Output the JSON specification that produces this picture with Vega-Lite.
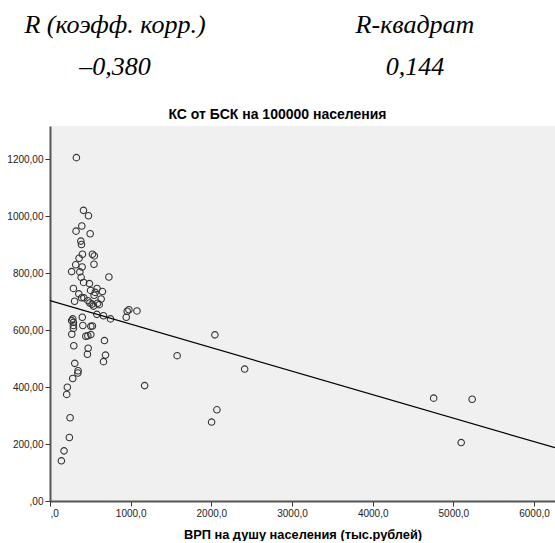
{
  "$schema": "https://vega.github.io/schema/vega-lite/v6.json",
  "padding": 0,
  "background": "white",
  "spacing": 0,
  "config": {"view": {"stroke": null}},
  "datasets": {
    "header": [
      {"col": "a", "line": "h", "text": "R (коэфф. корр.)"},
      {"col": "a", "line": "v", "text": "–0,380"},
      {"col": "b", "line": "h", "text": "R-квадрат"},
      {"col": "b", "line": "v", "text": "0,144"}
    ],
    "points": [
      {"vrp": 327, "ks": 1205}, {"vrp": 415, "ks": 1020}, {"vrp": 477, "ks": 1001}, {"vrp": 394, "ks": 965},
      {"vrp": 323, "ks": 947}, {"vrp": 498, "ks": 938}, {"vrp": 382, "ks": 912}, {"vrp": 390, "ks": 900},
      {"vrp": 402, "ks": 866}, {"vrp": 526, "ks": 866}, {"vrp": 549, "ks": 860}, {"vrp": 361, "ks": 852},
      {"vrp": 545, "ks": 831}, {"vrp": 319, "ks": 829}, {"vrp": 398, "ks": 821}, {"vrp": 268, "ks": 805},
      {"vrp": 370, "ks": 804}, {"vrp": 730, "ks": 786}, {"vrp": 386, "ks": 785}, {"vrp": 417, "ks": 767},
      {"vrp": 489, "ks": 763}, {"vrp": 290, "ks": 746}, {"vrp": 583, "ks": 746}, {"vrp": 503, "ks": 739},
      {"vrp": 650, "ks": 735}, {"vrp": 560, "ks": 732}, {"vrp": 357, "ks": 727}, {"vrp": 547, "ks": 722},
      {"vrp": 392, "ks": 713}, {"vrp": 420, "ks": 713}, {"vrp": 634, "ks": 709}, {"vrp": 305, "ks": 701},
      {"vrp": 470, "ks": 703}, {"vrp": 494, "ks": 695}, {"vrp": 522, "ks": 691}, {"vrp": 590, "ks": 694},
      {"vrp": 610, "ks": 689}, {"vrp": 539, "ks": 684}, {"vrp": 581, "ks": 655}, {"vrp": 663, "ks": 650},
      {"vrp": 750, "ks": 639}, {"vrp": 945, "ks": 645}, {"vrp": 957, "ks": 666}, {"vrp": 978, "ks": 671},
      {"vrp": 1078, "ks": 667}, {"vrp": 400, "ks": 645}, {"vrp": 282, "ks": 639}, {"vrp": 290, "ks": 627},
      {"vrp": 268, "ks": 633}, {"vrp": 290, "ks": 616}, {"vrp": 290, "ks": 606}, {"vrp": 407, "ks": 616},
      {"vrp": 506, "ks": 613}, {"vrp": 526, "ks": 614}, {"vrp": 270, "ks": 585}, {"vrp": 444, "ks": 578},
      {"vrp": 469, "ks": 580}, {"vrp": 506, "ks": 584}, {"vrp": 675, "ks": 563}, {"vrp": 295, "ks": 545},
      {"vrp": 473, "ks": 536}, {"vrp": 464, "ks": 515}, {"vrp": 688, "ks": 512}, {"vrp": 663, "ks": 489},
      {"vrp": 307, "ks": 483}, {"vrp": 348, "ks": 457}, {"vrp": 345, "ks": 449}, {"vrp": 282, "ks": 430},
      {"vrp": 215, "ks": 399}, {"vrp": 207, "ks": 374}, {"vrp": 249, "ks": 292}, {"vrp": 240, "ks": 223},
      {"vrp": 174, "ks": 176}, {"vrp": 141, "ks": 141}, {"vrp": 1173, "ks": 405}, {"vrp": 1576, "ks": 510},
      {"vrp": 2044, "ks": 583}, {"vrp": 2413, "ks": 463}, {"vrp": 2069, "ks": 320}, {"vrp": 2003, "ks": 277},
      {"vrp": 4756, "ks": 361}, {"vrp": 5233, "ks": 357}, {"vrp": 5097, "ks": 205}
    ],
    "fit": [
      {"vrp": 0, "ks": 703},
      {"vrp": 6260, "ks": 187}
    ]
  },
  "vconcat": [
    {
      "width": 430,
      "height": 108,
      "data": {"name": "header"},
      "mark": {"type": "text", "font": "serif", "fontStyle": "italic", "fontSize": 26, "baseline": "alphabetic", "align": "center", "color": "black"},
      "encoding": {
        "x": {"field": "col", "type": "nominal", "axis": null, "scale": {"type": "point", "padding": 0.2167}},
        "y": {"field": "line", "type": "nominal", "axis": null, "scale": {"type": "point", "padding": 0.786, "domain": ["h", "v"]}},
        "text": {"field": "text"}
      }
    },
    {
      "width": 505,
      "height": 375,
      "title": {"text": "КС от БСК на 100000 населения", "fontSize": 14, "fontWeight": "bold", "font": "Liberation Sans", "color": "black", "frame": "bounds", "anchor": "middle", "offset": 4},
      "view": {"fill": "#F0F0F0", "stroke": null},
      "layer": [
        {
          "data": {"name": "points"},
          "mark": {"type": "point", "shape": "circle", "filled": false, "size": 42, "strokeWidth": 1.1, "color": "#333333", "opacity": 1},
          "encoding": {
            "x": {
              "field": "vrp", "type": "quantitative",
              "scale": {"domain": [0, 6260], "nice": false, "zero": true},
              "axis": {
                "title": "ВРП на душу населения (тыс.рублей)",
                "values": [0, 1000, 2000, 3000, 4000, 5000, 6000],
                "labelExpr": "datum.value == 0 ? ',0' : datum.value + ',0'",
                "grid": false, "domainColor": "#555555", "domainWidth": 2, "tickColor": "#333333", "tickSize": 5,
                "labelFont": "Liberation Sans", "labelFontSize": 10, "labelColor": "#222222", "labelPadding": 2,
                "titleFont": "Liberation Sans", "titleFontSize": 12.8, "titleFontWeight": "bold", "titleColor": "black", "titlePadding": 10
              }
            },
            "y": {
              "field": "ks", "type": "quantitative",
              "scale": {"domain": [0, 1316], "nice": false, "zero": true},
              "axis": {
                "title": null,
                "values": [0, 200, 400, 600, 800, 1000, 1200],
                "labelExpr": "datum.value == 0 ? ',00' : datum.value + ',00'",
                "grid": false, "domainColor": "#555555", "domainWidth": 2, "tickColor": "#333333", "tickSize": 5,
                "labelFont": "Liberation Sans", "labelFontSize": 10, "labelColor": "#222222", "labelPadding": 2,
                "minExtent": 50, "maxExtent": 50
              }
            }
          }
        },
        {
          "data": {"name": "fit"},
          "mark": {"type": "line", "color": "black", "strokeWidth": 1.2, "clip": true},
          "encoding": {
            "x": {"field": "vrp", "type": "quantitative"},
            "y": {"field": "ks", "type": "quantitative"}
          }
        }
      ]
    }
  ]
}
